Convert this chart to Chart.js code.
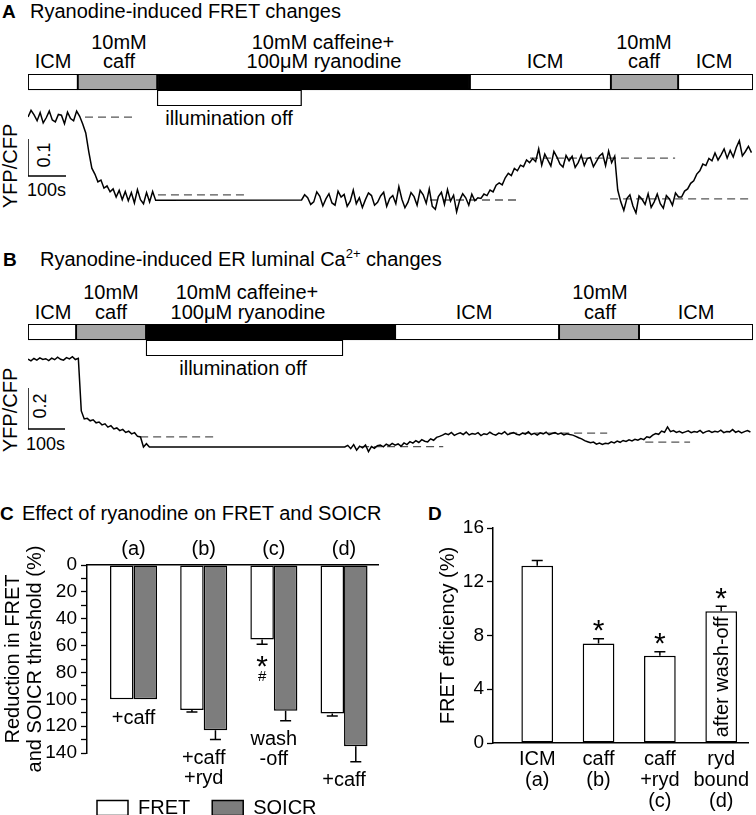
<!DOCTYPE html>
<html>
<head>
<meta charset="utf-8">
<title>Ryanodine-induced FRET changes</title>
<script src="https://cdn.jsdelivr.net/npm/chart.js@4.4.1/dist/chart.umd.min.js"></script>
<style>
  body { margin: 0; background: #fff; }
  #fig { position: relative; width: 756px; height: 815px; overflow: hidden;
         font-family: 'Liberation Sans', Arial, Helvetica, sans-serif; color: #000; }
  #fig canvas { position: absolute; }
  .t { position: absolute; font-size: 20px; line-height: 1; white-space: nowrap; transform: translate(-50%, -50%); }
  .t.l { transform: translate(0, -50%); }
  .t.v { transform: translate(-50%, -50%) rotate(-90deg); }
  .t.pl { font-weight: bold; font-size: 19px; }
  .t.s { font-size: 18px; }
  sup { font-size: 13px; vertical-align: super; line-height: 0; }
</style>
</head>
<body>
<div id="fig">
  <!-- panel A text -->
  <div class="t l pl" style="left:2px;top:11px">A</div>
  <div class="t l" style="left:30px;top:11px">Ryanodine-induced FRET changes</div>
  <div class="t" style="left:53px;top:61px">ICM</div>
  <div class="t" style="left:119px;top:42px">10mM</div>
  <div class="t" style="left:119px;top:61px">caff</div>
  <div class="t" style="left:323px;top:42px">10mM caffeine+</div>
  <div class="t" style="left:324px;top:61px">100μM ryanodine</div>
  <div class="t" style="left:545px;top:61px">ICM</div>
  <div class="t" style="left:644px;top:42px">10mM</div>
  <div class="t" style="left:644px;top:61px">caff</div>
  <div class="t" style="left:714px;top:61px">ICM</div>
  <div class="t" style="left:229px;top:118px">illumination off</div>
  <div class="t v" style="left:10px;top:166px">YFP/CFP</div>
  <div class="t v s" style="left:44px;top:155px">0.1</div>
  <div class="t l s" style="left:27px;top:190px">100s</div>

  <!-- panel B text -->
  <div class="t l pl" style="left:3px;top:259px">B</div>
  <div class="t l" style="left:40px;top:259px">Ryanodine-induced ER luminal Ca<sup>2+</sup> changes</div>
  <div class="t" style="left:53px;top:312px">ICM</div>
  <div class="t" style="left:111px;top:292px">10mM</div>
  <div class="t" style="left:111px;top:312px">caff</div>
  <div class="t" style="left:247px;top:292px">10mM caffeine+</div>
  <div class="t" style="left:248px;top:312px">100μM ryanodine</div>
  <div class="t" style="left:474px;top:312px">ICM</div>
  <div class="t" style="left:600px;top:292px">10mM</div>
  <div class="t" style="left:600px;top:312px">caff</div>
  <div class="t" style="left:696px;top:312px">ICM</div>
  <div class="t" style="left:243px;top:368px">illumination off</div>
  <div class="t v" style="left:10px;top:410px">YFP/CFP</div>
  <div class="t v s" style="left:40px;top:406px">0.2</div>
  <div class="t l s" style="left:26px;top:444px">100s</div>

  <!-- panels C and D headings -->
  <div class="t l pl" style="left:0px;top:513px">C</div>
  <div class="t l" style="left:22px;top:513px">Effect of ryanodine on FRET and SOICR</div>
  <div class="t l pl" style="left:428px;top:513px">D</div>

  <canvas id="protoA" width="725" height="32" style="left:28px;top:74px"></canvas>
  <canvas id="traceA" width="741" height="115" style="left:20px;top:100px"></canvas>
  <canvas id="protoB" width="725" height="32" style="left:28px;top:324px"></canvas>
  <canvas id="traceB" width="741" height="115" style="left:20px;top:345px"></canvas>
  <canvas id="chartC" width="380" height="298" style="left:0px;top:530px"></canvas>
  <canvas id="chartD" width="376" height="310" style="left:380px;top:505px"></canvas>
</div>

<script>
const FONT = "'Liberation Sans', Arial, Helvetica, sans-serif";
Chart.defaults.font.family = FONT;
Chart.defaults.color = '#000';
Chart.defaults.animation = false;

// ---- traces (YFP/CFP ratio, one sample every 8 s) ----
const sampleStep = 8;

const traceAPreStart = 0;
const traceAPre = [
  1.224, 1.242, 1.230, 1.214, 1.236, 1.208, 1.222, 1.240, 1.216, 1.211,
  1.231, 1.229, 1.206, 1.237, 1.220, 1.214, 1.240, 1.226, 1.205, 1.181,
  1.130, 1.086, 1.070, 1.049, 1.054, 1.032, 1.038, 1.022, 1.030, 1.008,
  1.026, 1.001, 1.023, 0.998, 1.020, 0.992, 1.028, 1.001, 0.990, 1.020,
  0.995, 1.023, 0.999
];
const traceAPostStart = 720;
const traceAPost = [
  1.000, 1.014, 1.006, 0.988, 0.995, 1.022, 1.010, 0.984, 1.003, 1.017,
  0.992, 0.986, 1.024, 1.008, 1.015, 0.983, 0.997, 1.027, 0.990, 1.006,
  0.980, 1.001, 1.019, 1.012, 0.986, 0.994, 1.011, 1.021, 0.983, 1.004,
  1.012, 0.990, 1.036, 1.002, 0.979, 0.994, 1.020, 1.009, 0.986, 1.026,
  1.014, 0.991, 1.030, 0.983, 0.975, 1.009, 1.021, 0.988, 1.028, 0.997,
  1.013, 0.968, 0.999, 1.017, 1.006, 0.986, 1.016, 0.998,
  1.006, 1.004, 1.016, 1.012, 1.027, 1.022, 1.040, 1.046, 1.041, 1.060,
  1.072, 1.066, 1.085, 1.079, 1.094, 1.090, 1.108, 1.101, 1.112, 1.104, 1.138,
  1.094, 1.124, 1.108, 1.092, 1.131, 1.116, 1.097, 1.089, 1.120, 1.106,
  1.118, 1.088, 1.101, 1.121, 1.093, 1.112, 1.115, 1.090, 1.104, 1.119,
  1.126, 1.093, 1.132, 1.101, 1.118,
  1.027, 0.995,
  0.972, 1.004, 1.014, 0.984, 0.965, 1.011, 1.002, 0.988, 1.017, 0.980,
  0.995, 1.016, 0.990, 0.978, 1.012, 1.003, 0.986, 1.019, 1.008,
  1.008, 1.024, 1.030, 1.045, 1.052, 1.070, 1.079, 1.097, 1.093, 1.112, 1.106,
  1.127, 1.108, 1.122, 1.138, 1.113, 1.134, 1.116, 1.142, 1.160, 1.119,
  1.131, 1.145, 1.128
];

const traceBPreStart = 0;
const traceBPre = [
  1.429, 1.420, 1.432, 1.424, 1.435, 1.427, 1.431, 1.422, 1.434, 1.426,
  1.438, 1.428, 1.424, 1.436, 1.430, 1.441, 1.427, 1.433, 1.176, 1.137,
  1.140, 1.128, 1.133, 1.118, 1.122, 1.108, 1.113, 1.097, 1.104, 1.088,
  1.093, 1.080, 1.086, 1.071, 1.077, 1.064, 1.070, 1.052, 1.049, 1.000,
  1.016, 1.000
];
const traceBPostStart = 856;
const traceBPost = [
  1.000, 1.008, 0.992, 1.012, 0.985, 1.004, 0.996, 1.010, 0.978, 1.002, 0.994, 1.006,
  1.010, 1.001, 1.014, 1.006, 1.018, 1.009, 1.015, 1.004, 1.020, 1.012, 1.026,
  1.019, 1.031, 1.022, 1.036, 1.028, 1.025, 1.040, 1.033, 1.047, 1.052,
  1.058, 1.066, 1.060, 1.071, 1.057, 1.064, 1.069, 1.061, 1.073, 1.059, 1.066,
  1.062, 1.070, 1.056, 1.065, 1.061, 1.072, 1.063, 1.058, 1.068, 1.064, 1.075,
  1.060, 1.066, 1.071, 1.062, 1.059, 1.068, 1.063, 1.074, 1.061, 1.067, 1.058,
  1.069, 1.064, 1.072, 1.060, 1.066, 1.070, 1.063, 1.068, 1.059, 1.065, 1.061,
  1.058, 1.052, 1.045, 1.040, 1.031, 1.026, 1.021, 1.024, 1.014, 1.019, 1.012, 1.018,
  1.016, 1.025, 1.020, 1.029, 1.023, 1.032, 1.027, 1.035, 1.030, 1.038,
  1.033, 1.041, 1.036, 1.050, 1.046,
  1.058, 1.066, 1.062, 1.078, 1.072, 1.098, 1.075, 1.080, 1.071, 1.077,
  1.069, 1.074, 1.079, 1.070, 1.076, 1.072, 1.081, 1.068, 1.075, 1.079,
  1.071, 1.077, 1.073, 1.082, 1.070, 1.076, 1.074, 1.085, 1.072, 1.078,
  1.069, 1.075, 1.080, 1.073
];

// dashed reference levels: [from s, to s, ratio]
const dashA = [[150, 282, 1.224], [342, 579, 1.014], [1058, 1295, 1.000], [1321, 1703, 1.113], [1532, 1908, 1.003]];
const dashB = [[303, 511, 1.049], [900, 1122, 1.002], [1300, 1565, 1.068], [1668, 1789, 1.024]];

const scaleBarA = { time: 100, ratio: 0.1, base: 1.065 };
const scaleBarB = { time: 100, ratio: 0.2, base: 1.088 };

// ---- solution protocol (s) ----
const protoAEdges = [0, 131, 340, 1163, 1534, 1711, 1908];
const protoBEdges = [0, 130, 319, 992, 1435, 1651, 1959];
const protoSolutions = ['ICM', 'caff', 'ryd', 'ICM', 'caff', 'ICM'];
const lightOffA = [340, 720];
const lightOffB = [319, 851];
const solutionColor = { ICM: '#ffffff', caff: '#a6a6a6', ryd: '#000000' };

// ---- panel C ----
const groupPos = [1, 2, 3, 4];
const groupLabels = ['(a)', '(b)', '(c)', '(d)'];
const fretReduction = [100, 108, 55.5, 110.5];
const fretReductionErr = [0, 1.5, 3.5, 2];
const soicrReduction = [100, 123, 108.5, 135];
const soicrReductionErr = [0, 7, 7.5, 11.5];
const fretMarks = [[], [], ['*', '#'], []];
const groupNotes = [['+caff'], ['+caff', '+ryd'], ['wash', '-off'], ['+caff']];

// ---- panel D ----
const effLabels = [['ICM', '(a)'], ['caff', '(b)'], ['caff', '+ryd', '(c)'], ['ryd', 'bound', '(d)']];
const fretEff = [13.2, 7.4, 6.5, 9.8];
const fretEffErr = [0.38, 0.35, 0.3, 0.37];
const effMarks = [[], ['*'], ['*'], ['*']];

function protocolChart(id, edges, lightOff) {
  const segs = protoSolutions.map((s, i) => ({ x: [edges[i], edges[i + 1]], y: 'solution' }));
  segs.push({ x: lightOff, y: 'light' });
  const colors = protoSolutions.map(s => solutionColor[s]).concat('#ffffff');
  return new Chart(document.getElementById(id), {
    type: 'bar',
    data: {
      labels: ['solution', 'light'],
      datasets: [{ data: segs, backgroundColor: colors, borderColor: '#000', borderWidth: 1.3,
                   borderSkipped: false, barPercentage: 1, categoryPercentage: 1 }]
    },
    options: {
      indexAxis: 'y', responsive: false, events: [],
      plugins: { legend: { display: false }, tooltip: { enabled: false } },
      scales: {
        x: { type: 'linear', display: false, min: 0, max: edges[edges.length - 1] },
        y: { type: 'category', display: false }
      }
    }
  });
}

function traceChart(id, pre, preStart, post, postStart, dashes, bar, yMin, yMax, tMax) {
  const pts = pre.map((v, i) => ({ x: preStart + i * sampleStep, y: v }))
    .concat(post.map((v, i) => ({ x: postStart + i * sampleStep, y: v })));
  const datasets = [
    { data: pts, borderColor: '#000', borderWidth: 1.5 },
    { data: [{ x: 0, y: bar.base + bar.ratio }, { x: 0, y: bar.base }, { x: bar.time, y: bar.base }],
      borderColor: '#000', borderWidth: 1.5 }
  ];
  dashes.forEach(d => datasets.push({
    data: [{ x: d[0], y: d[2] }, { x: d[1], y: d[2] }],
    borderColor: '#555', borderWidth: 1.3, borderDash: [8, 5]
  }));
  return new Chart(document.getElementById(id), {
    type: 'line',
    data: { datasets },
    options: {
      responsive: false, events: [],
      layout: { padding: { left: 8, right: 8 } },
      elements: { point: { radius: 0 }, line: { tension: 0 } },
      plugins: { legend: { display: false }, tooltip: { enabled: false } },
      scales: {
        x: { type: 'linear', display: false, min: 0, max: tMax },
        y: { type: 'linear', display: false, min: yMin, max: yMax }
      }
    }
  });
}

// error bars, significance marks and text notes for the bar panels
const barExtras = {
  id: 'barExtras',
  afterDatasetsDraw(chart, args, opts) {
    const ctx = chart.ctx;
    const yScale = chart.scales.y;
    const dir = Math.sign(yScale.getPixelForValue(1) - yScale.getPixelForValue(0));
    const far = [];
    ctx.save();
    ctx.strokeStyle = '#000';
    ctx.fillStyle = '#000';
    ctx.lineWidth = 1.5;
    ctx.textAlign = 'center';
    chart.data.datasets.forEach((ds, di) => {
      const errs = (opts.errors || [])[di] || [];
      const marks = (opts.marks || [])[di] || [];
      chart.getDatasetMeta(di).data.forEach((bar, i) => {
        const end = yScale.getPixelForValue(ds.data[i].y + (errs[i] || 0));
        if (errs[i]) {
          ctx.beginPath();
          ctx.moveTo(bar.x, bar.y);
          ctx.lineTo(bar.x, end);
          ctx.moveTo(bar.x - opts.cap, end);
          ctx.lineTo(bar.x + opts.cap, end);
          ctx.stroke();
        }
        if (far[i] === undefined) far[i] = end;
        else far[i] = dir > 0 ? Math.max(far[i], end) : Math.min(far[i], end);
        (marks[i] || []).forEach((m, k) => {
          const star = m === '*';
          const size = star ? 30 : 15;
          ctx.font = size + 'px ' + FONT;
          ctx.textBaseline = 'alphabetic';
          const yc = end + dir * (opts.markGap + k * opts.markStep);
          ctx.fillText(m, bar.x, yc + size * (star ? 0.58 : 0.36));
        });
      });
    });
    ctx.font = '20px ' + FONT;
    ctx.textBaseline = 'middle';
    (opts.notes || []).forEach((lines, i) => {
      const xs = chart.data.datasets.map((ds, di) => chart.getDatasetMeta(di).data[i].x);
      const x = xs.reduce((a, b) => a + b, 0) / xs.length;
      lines.forEach((line, k) => ctx.fillText(line, x, far[i] + dir * (opts.noteGap + k * opts.noteStep)));
    });
    if (opts.inside) {
      const bar = chart.getDatasetMeta(0).data[opts.inside.index];
      ctx.translate(bar.x, (bar.y + bar.base) / 2);
      ctx.rotate(-Math.PI / 2);
      ctx.fillText(opts.inside.text, 0, 1);
    }
    ctx.restore();
  }
};

// slide the legend row to sit under the bars
const legendShift = {
  id: 'legendShift',
  afterLayout(chart, args, opts) {
    chart.legend.left += opts.dx;
    chart.legend.right += opts.dx;
  }
};

protocolChart('protoA', protoAEdges, lightOffA);
protocolChart('protoB', protoBEdges, lightOffB);
traceChart('traceA', traceAPre, traceAPreStart, traceAPost, traceAPostStart, dashA, scaleBarA, 0.9595, 1.27, 1908);
traceChart('traceB', traceBPre, traceBPreStart, traceBPost, traceBPostStart, dashB, scaleBarB, 0.9366, 1.4978, 1959);

new Chart(document.getElementById('chartC'), {
  type: 'bar',
  data: {
    datasets: [
      { label: 'FRET', data: groupPos.map((x, i) => ({ x, y: fretReduction[i] })),
        backgroundColor: '#ffffff', borderColor: '#000', borderWidth: 1.5, borderSkipped: false,
        categoryPercentage: 0.67, barPercentage: 1, xAxisID: 'x', yAxisID: 'y' },
      { label: 'SOICR', data: groupPos.map((x, i) => ({ x, y: soicrReduction[i] })),
        backgroundColor: '#7d7d7d', borderColor: '#000', borderWidth: 1.5, borderSkipped: false,
        categoryPercentage: 0.67, barPercentage: 1, xAxisID: 'x', yAxisID: 'y' }
    ]
  },
  plugins: [barExtras, legendShift],
  options: {
    responsive: false, events: [],
    layout: { padding: { right: 2 } },
    plugins: {
      tooltip: { enabled: false },
      legend: {
        display: true, position: 'bottom', align: 'start',
        labels: { boxWidth: 31, boxHeight: 15, padding: 22, color: '#000', font: { size: 20 } }
      },
      legendShift: { dx: 75 },
      barExtras: {
        errors: [fretReductionErr, soicrReductionErr], cap: 5.5,
        marks: [fretMarks], markGap: 14, markStep: 17,
        notes: groupNotes, noteGap: 19, noteStep: 20
      }
    },
    scales: {
      x: {
        type: 'linear', position: 'top', offset: false, min: 0.337, max: 4.484,
        afterBuildTicks: s => { s.ticks = groupPos.map(v => ({ value: v })); },
        afterFit: s => { s.height = 35; },
        ticks: { autoSkip: false, maxRotation: 0, padding: 5, color: '#000',
                 font: { size: 20, lineHeight: 1.05 },
                 callback: v => groupLabels[groupPos.indexOf(v)] },
        grid: { display: false, drawTicks: false },
        border: { display: true, color: '#000', width: 1.5 }
      },
      y: {
        type: 'linear', reverse: true, min: 0, max: 140,
        afterFit: s => { s.width = 87; },
        ticks: { stepSize: 10, autoSkip: false, padding: 4, color: '#000', font: { size: 19 },
                 callback: v => (v % 20 === 0 ? v : '') },
        grid: { drawOnChartArea: false, color: '#000', tickLength: 6, tickWidth: 1.3 },
        border: { color: '#000', width: 1.5 },
        title: { display: true, text: ['Reduction in FRET', 'and SOICR threshold (%)'], color: '#000',
                 font: { size: 20, lineHeight: 1.1 }, padding: { top: 2.5, bottom: 0 } }
      },
      pad: {
        type: 'linear', position: 'bottom', display: true,
        afterFit: s => { s.height = 23; },
        ticks: { display: false }, grid: { display: false, drawTicks: false }, border: { display: false }
      }
    }
  }
});

new Chart(document.getElementById('chartD'), {
  type: 'bar',
  data: {
    datasets: [
      { label: 'FRET efficiency', data: groupPos.map((x, i) => ({ x, y: fretEff[i] })),
        backgroundColor: '#ffffff', borderColor: '#000', borderWidth: 1.5, borderSkipped: false,
        categoryPercentage: 0.517, barPercentage: 1 }
    ]
  },
  plugins: [barExtras],
  options: {
    responsive: false, events: [],
    layout: { padding: { top: 23, right: 8 } },
    plugins: {
      legend: { display: false }, tooltip: { enabled: false },
      barExtras: {
        errors: [fretEffErr], cap: 5.5,
        marks: [effMarks], markGap: 16, markStep: 17,
        inside: { index: 3, text: 'after wash-off' }
      }
    },
    scales: {
      x: {
        type: 'linear', position: 'bottom', offset: false, min: 0.279, max: 4.437,
        afterBuildTicks: s => { s.ticks = groupPos.map(v => ({ value: v })); },
        afterFit: s => { s.height = 72; },
        ticks: { autoSkip: false, maxRotation: 0, padding: 6, color: '#000',
                 font: { size: 20, lineHeight: 1.05 },
                 callback: v => effLabels[groupPos.indexOf(v)] },
        grid: { display: false, drawTicks: false },
        border: { display: true, color: '#000', width: 1.5 }
      },
      y: {
        type: 'linear', min: 0, max: 16,
        afterFit: s => { s.width = 113; },
        ticks: { stepSize: 4, padding: 3, color: '#000', font: { size: 19 } },
        grid: { drawOnChartArea: false, color: '#000', tickLength: 6, tickWidth: 1.3 },
        border: { color: '#000', width: 1.5 },
        title: { display: true, text: 'FRET efficiency (%)', color: '#000',
                 font: { size: 20, lineHeight: 1.1 }, padding: { top: 57, bottom: 0 } }
      }
    }
  }
});
</script>
</body>
</html>
